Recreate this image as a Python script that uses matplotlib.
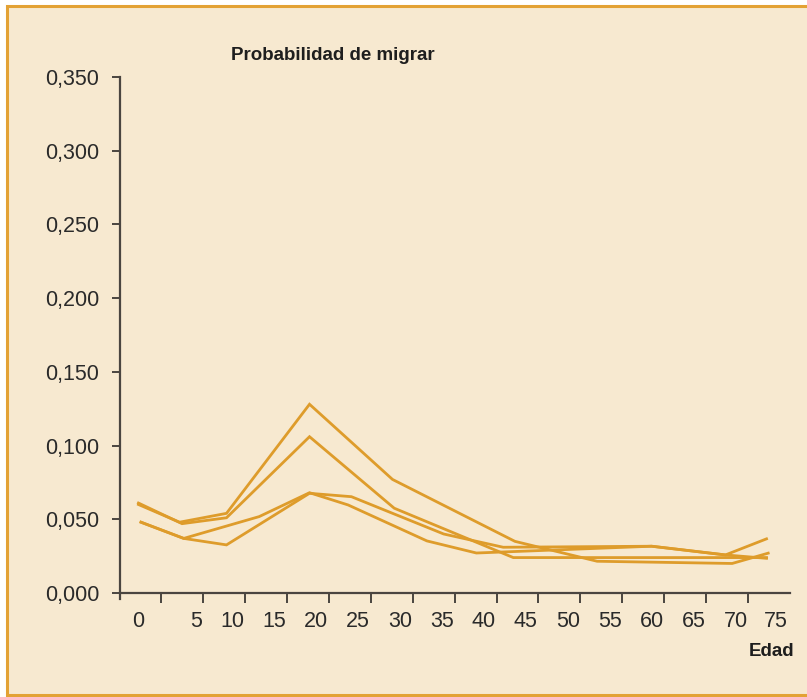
import matplotlib
matplotlib.use("Agg")
import matplotlib.pyplot as plt
from matplotlib.patches import Rectangle
from matplotlib.ticker import FixedLocator, NullFormatter

# ---- data ----
ages_a = [-0.2, 4.7, 10.3, 20.2, 30.1, 44.7, 54.5, 70.6, 74.9]
prob_a = [0.060, 0.048, 0.054, 0.128, 0.077, 0.035, 0.0215, 0.020, 0.027]

ages_b = [-0.2, 5.0, 10.3, 20.2, 30.3, 44.5, 74.7]
prob_b = [0.061, 0.047, 0.051, 0.106, 0.0575, 0.024, 0.024]

ages_c = [0.1, 5.2, 10.3, 20.2, 25.2, 36.2, 43.3, 61.0, 69.8, 74.7]
prob_c = [0.048, 0.037, 0.0326, 0.0676, 0.0653, 0.040, 0.031, 0.0317, 0.0258, 0.0235]

ages_d = [0.1, 5.2, 14.2, 20.2, 24.8, 34.2, 40.1, 61.0, 69.8, 74.7]
prob_d = [0.048, 0.037, 0.0518, 0.068, 0.0597, 0.0353, 0.0271, 0.0317, 0.0258, 0.0367]

x_labels = ["0", "5", "10", "15", "20", "25", "30", "35", "40", "45",
            "50", "55", "60", "65", "70", "75"]
y_ticks = [0.0, 0.05, 0.10, 0.15, 0.20, 0.25, 0.30, 0.35]
y_labels = ["0,000", "0,050", "0,100", "0,150", "0,200", "0,250", "0,300", "0,350"]

# ---- style ----
BG = "#F7E9D0"
ORANGE = "#E3A235"
LINE = "#DE9C2B"
AXC = "#4A4540"
TXT = "#1E1E1E"

fig = plt.figure(figsize=(8.07, 6.97), dpi=100)
fig.patch.set_facecolor("white")
W, H = 807, 697
frame = Rectangle((7 / W, 2 / H), 1.2, (695 - 6) / H, transform=fig.transFigure,
                  facecolor=BG, edgecolor=ORANGE, linewidth=2.2, zorder=-5)
fig.patches.append(frame)

ax = fig.add_axes([120 / W, (H - 599) / H, (790 - 120) / W, (599 - 77) / H])
ax.set_facecolor("none")
ax.set_zorder(2)

for xs, ys in [(ages_a, prob_a), (ages_b, prob_b), (ages_c, prob_c), (ages_d, prob_d)]:
    ax.plot(xs, ys, color=LINE, linewidth=2.0, solid_joinstyle="miter", clip_on=False)

ax.set_xlim(-2.4, 77.5)
ax.set_ylim(-0.0041, 0.35)

for s in ["top", "right"]:
    ax.spines[s].set_visible(False)
ax.spines["bottom"].set_position(("data", 0))
ax.spines["left"].set_color(AXC)
ax.spines["bottom"].set_color(AXC)
ax.spines["left"].set_linewidth(1.6)
ax.spines["bottom"].set_linewidth(1.6)

# y axis
ax.set_yticks(y_ticks)
ax.set_yticklabels(y_labels, fontsize=15.5, color="#2A2A2A", family=["Liberation Sans", "DejaVu Sans"])
ax.tick_params(axis="y", direction="out", length=6, width=1.4, color=AXC, pad=9)
for i, t in enumerate(ax.yaxis.get_major_ticks()):
    if y_ticks[i] in (0.05, 0.10):
        t.tick1line.set_color(ORANGE)

# x axis: boundary tick marks (minor) and shifted labels (major, no marks)
bounds = [2.5 + 5 * i for i in range(15)]
label_pos = [-0.2, 6.7] + [int(l) + 1.0 for l in x_labels[2:]]
label_pos[-1] = 75.8
ax.xaxis.set_minor_locator(FixedLocator(bounds))
ax.xaxis.set_minor_formatter(NullFormatter())
ax.set_xticks(label_pos)
ax.set_xticklabels(x_labels, fontsize=15.5, color="#2A2A2A",
                   family=["Liberation Sans Narrow", "Liberation Sans", "DejaVu Sans"])
ax.tick_params(axis="x", which="major", length=0, pad=13)
ax.tick_params(axis="x", which="minor", direction="out", length=7, width=1.4, color=AXC)

fig.text(231 / W, 1 - 55 / H, "Probabilidad de migrar", fontsize=13.5, fontweight="bold",
         color=TXT, ha="left", va="center",
         family=["Liberation Sans Narrow", "Liberation Sans", "DejaVu Sans"])
fig.text(794 / W, 1 - 651 / H, "Edad", fontsize=13.5, fontweight="bold",
         color=TXT, ha="right", va="center",
         family=["Liberation Sans Narrow", "Liberation Sans", "DejaVu Sans"])

fig.savefig("out.png", dpi=100, facecolor=fig.get_facecolor())
